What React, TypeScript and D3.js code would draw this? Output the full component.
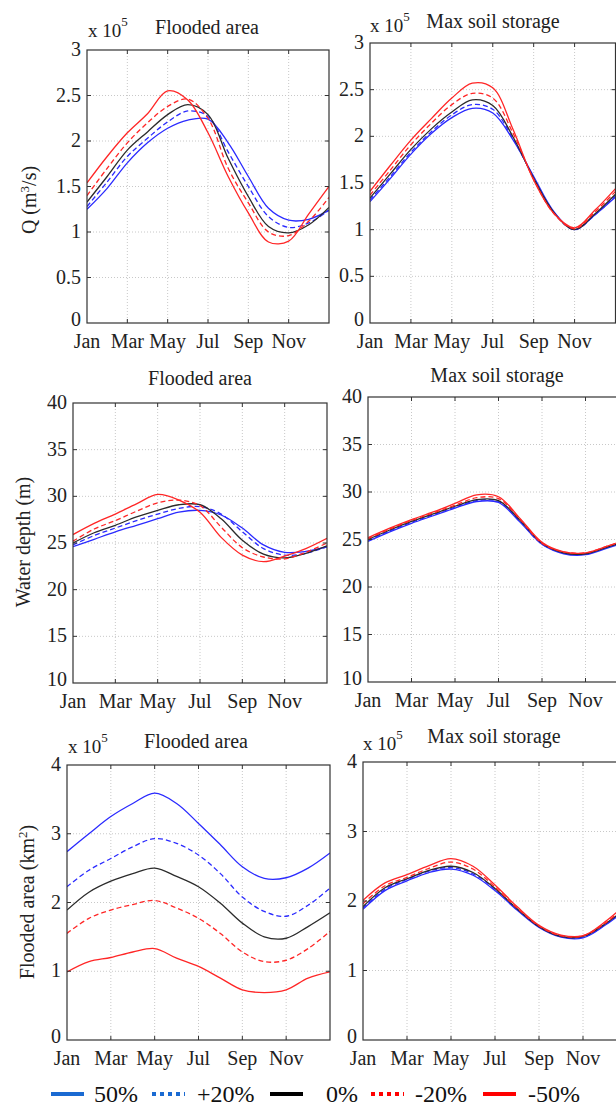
import React from "react";
import * as d3 from "d3";

// x axis: month index, 0 = 1 Jan ... 12 = end of Dec
const monthIndex = d3.range(13);
const monthTicks = [0, 2, 4, 6, 8, 10];
const monthLabels = ["Jan", "Mar", "May", "Jul", "Sep", "Nov"];

const scenarios = ["50%", "+20%", "0%", "-20%", "-50%"];

// discharge Q (x 10^5 m3/s), flooded area scenarios
const qFloodP50 = [1.25, 1.48, 1.76, 1.98, 2.14, 2.23, 2.24, 1.98, 1.61, 1.26, 1.13, 1.14, 1.24];
const qFloodP20 = [1.28, 1.55, 1.83, 2.03, 2.21, 2.33, 2.27, 1.88, 1.5, 1.17, 1.05, 1.1, 1.24];
const qFloodZero = [1.33, 1.61, 1.9, 2.1, 2.29, 2.4, 2.29, 1.81, 1.39, 1.06, 0.99, 1.08, 1.27];
const qFloodM20 = [1.4, 1.7, 1.98, 2.2, 2.38, 2.46, 2.25, 1.7, 1.32, 1.0, 0.96, 1.12, 1.38];
const qFloodM50 = [1.54, 1.83, 2.09, 2.3, 2.55, 2.45, 2.09, 1.61, 1.21, 0.89, 0.9, 1.2, 1.5];

// discharge Q (x 10^5 m3/s), max soil storage scenarios
const qSoilP50 = [1.3, 1.55, 1.81, 2.03, 2.2, 2.3, 2.25, 1.96, 1.57, 1.19, 1.0, 1.16, 1.35];
const qSoilP20 = [1.32, 1.57, 1.83, 2.05, 2.23, 2.34, 2.29, 1.97, 1.56, 1.18, 1.0, 1.16, 1.36];
const qSoilZero = [1.34, 1.6, 1.86, 2.08, 2.26, 2.39, 2.33, 1.99, 1.55, 1.18, 1.0, 1.17, 1.38];
const qSoilM20 = [1.37, 1.64, 1.91, 2.14, 2.34, 2.46, 2.41, 2.03, 1.54, 1.17, 1.01, 1.19, 1.41];
const qSoilM50 = [1.41, 1.69, 1.96, 2.19, 2.41, 2.57, 2.52, 2.07, 1.53, 1.17, 1.02, 1.21, 1.44];

// water depth (m), flooded area scenarios
const depthFloodP50 = [24.6, 25.4, 26.2, 26.9, 27.6, 28.3, 28.5, 28.0, 26.6, 24.8, 24.0, 24.1, 24.6];
const depthFloodP20 = [24.8, 25.8, 26.6, 27.4, 28.1, 28.7, 28.9, 28.1, 26.2, 24.4, 23.7, 23.9, 24.6];
const depthFloodZero = [25.0, 26.1, 26.9, 27.8, 28.5, 29.1, 29.1, 27.6, 25.3, 23.8, 23.4, 23.9, 24.7];
const depthFloodM20 = [25.2, 26.5, 27.4, 28.4, 29.3, 29.6, 29.0, 26.7, 24.5, 23.5, 23.3, 24.0, 25.0];
const depthFloodM50 = [25.9, 27.1, 28.1, 29.2, 30.2, 29.6, 28.3, 25.6, 23.7, 23.0, 23.6, 24.4, 25.5];

// water depth (m), max soil storage scenarios
const depthSoilP50 = [24.8, 25.8, 26.7, 27.5, 28.3, 29.0, 28.9, 26.8, 24.5, 23.5, 23.4, 24.1, 24.8];
const depthSoilP20 = [24.9, 25.9, 26.8, 27.6, 28.4, 29.1, 29.0, 26.9, 24.5, 23.6, 23.5, 24.2, 24.9];
const depthSoilZero = [25.0, 26.0, 26.9, 27.7, 28.5, 29.2, 29.1, 27.0, 24.6, 23.6, 23.5, 24.2, 24.9];
const depthSoilM20 = [25.1, 26.1, 27.0, 27.8, 28.6, 29.4, 29.3, 27.1, 24.6, 23.7, 23.6, 24.3, 25.0];
const depthSoilM50 = [25.2, 26.2, 27.1, 27.9, 28.8, 29.7, 29.5, 27.2, 24.7, 23.7, 23.6, 24.3, 25.1];

// flooded area (x 10^5 km2), flooded area scenarios
const areaFloodP50 = [2.74, 3.0, 3.25, 3.44, 3.59, 3.44, 3.15, 2.84, 2.52, 2.35, 2.36, 2.5, 2.72];
const areaFloodP20 = [2.23, 2.47, 2.64, 2.81, 2.93, 2.86, 2.69, 2.42, 2.08, 1.87, 1.8, 1.96, 2.21];
const areaFloodZero = [1.89, 2.15, 2.31, 2.42, 2.5, 2.38, 2.23, 1.99, 1.7, 1.5, 1.48, 1.65, 1.85];
const areaFloodM20 = [1.55, 1.77, 1.89, 1.97, 2.03, 1.92, 1.77, 1.55, 1.28, 1.14, 1.16, 1.33, 1.58];
const areaFloodM50 = [0.99, 1.14, 1.2, 1.28, 1.33, 1.19, 1.07, 0.9, 0.73, 0.69, 0.73, 0.9, 0.99];

// flooded area (x 10^5 km2), max soil storage scenarios
const areaSoilP50 = [1.88, 2.15, 2.29, 2.41, 2.46, 2.37, 2.15, 1.87, 1.62, 1.48, 1.47, 1.65, 1.89];
const areaSoilP20 = [1.9, 2.17, 2.31, 2.43, 2.48, 2.39, 2.17, 1.88, 1.63, 1.49, 1.48, 1.66, 1.9];
const areaSoilZero = [1.92, 2.19, 2.32, 2.44, 2.5, 2.41, 2.18, 1.89, 1.63, 1.49, 1.49, 1.67, 1.91];
const areaSoilM20 = [1.96, 2.22, 2.34, 2.47, 2.56, 2.46, 2.2, 1.9, 1.64, 1.5, 1.5, 1.68, 1.94];
const areaSoilM50 = [2.01, 2.26, 2.38, 2.51, 2.61, 2.5, 2.23, 1.92, 1.65, 1.51, 1.5, 1.7, 1.97];

const qTicks = [0, 0.5, 1, 1.5, 2, 2.5, 3];
const depthTicks = [10, 15, 20, 25, 30, 35, 40];
const areaTicks = [0, 1, 2, 3, 4];

// styles per scenario
const lineColors = ["#2a2aff", "#2a2aff", "#2b2b2b", "#ff2626", "#ff2626"];
const lineDash = [null, "5,3", null, "5,3", null];
const legendColors = ["#1a6ad2", "#1a6ad2", "#000000", "#ff0000", "#ff0000"];
const legendDash = [null, "4,4", null, "4,4", null];

const FONT = "'Liberation Serif', 'DejaVu Serif', 'Times New Roman', serif";

const panels = [
  { x0: 87, x1: 329, y0: 50, y1: 323, ticks: qTicks, series: [qFloodP50, qFloodP20, qFloodZero, qFloodM20, qFloodM50],
    title: "Flooded area", tx: 207, ty: 34, exp: { x: 88, y: 37 } },
  { x0: 370, x1: 615.5, y0: 43, y1: 323, ticks: qTicks, series: [qSoilP50, qSoilP20, qSoilZero, qSoilM20, qSoilM50],
    title: "Max soil storage", tx: 493, ty: 28, exp: { x: 370, y: 32 } },
  { x0: 73, x1: 327, y0: 403, y1: 683, ticks: depthTicks, series: [depthFloodP50, depthFloodP20, depthFloodZero, depthFloodM20, depthFloodM50],
    title: "Flooded area", tx: 200, ty: 385, exp: null },
  { x0: 368, x1: 629, y0: 397, y1: 682, ticks: depthTicks, series: [depthSoilP50, depthSoilP20, depthSoilZero, depthSoilM20, depthSoilM50],
    title: "Max soil storage", tx: 497, ty: 382, exp: null },
  { x0: 67, x1: 330, y0: 765, y1: 1040, ticks: areaTicks, series: [areaFloodP50, areaFloodP20, areaFloodZero, areaFloodM20, areaFloodM50],
    title: "Flooded area", tx: 196, ty: 748, exp: { x: 68, y: 753 } },
  { x0: 363, x1: 627, y0: 762, y1: 1040, ticks: areaTicks, series: [areaSoilP50, areaSoilP20, areaSoilZero, areaSoilM20, areaSoilM50],
    title: "Max soil storage", tx: 494, ty: 743, exp: { x: 363, y: 750 } },
];

const Panel = ({ p, idx }: any) => {
  const x = d3.scaleLinear().domain([0, 12]).range([p.x0, p.x1]);
  const y = d3.scaleLinear().domain(d3.extent(p.ticks) as [number, number]).range([p.y1, p.y0]);
  const line = d3
    .line<number>()
    .x((_, i) => x(monthIndex[i]))
    .y((d) => y(d))
    .curve(d3.curveCatmullRom.alpha(0.5));
  const clipId = "clip" + idx;
  return (
    <g>
      <defs>
        <clipPath id={clipId}>
          <rect x={p.x0} y={p.y0} width={p.x1 - p.x0} height={p.y1 - p.y0} />
        </clipPath>
      </defs>
      {/* grid */}
      {monthTicks.slice(1).map((m) => (
        <line key={"gx" + m} x1={x(m)} x2={x(m)} y1={p.y0} y2={p.y1} stroke="#c8c8c8" strokeDasharray="1,2" />
      ))}
      {p.ticks.slice(1, -1).map((t: number) => (
        <line key={"gy" + t} x1={p.x0} x2={p.x1} y1={y(t)} y2={y(t)} stroke="#c8c8c8" strokeDasharray="1,2" />
      ))}
      {/* series */}
      <g clipPath={`url(#${clipId})`}>
        {p.series.map((s: number[], i: number) => (
          <path key={i} d={line(s) || ""} fill="none" stroke={lineColors[i]} strokeWidth={1.3}
            strokeDasharray={lineDash[i] || undefined} />
        ))}
      </g>
      {/* frame and ticks */}
      <rect x={p.x0} y={p.y0} width={p.x1 - p.x0} height={p.y1 - p.y0} fill="none" stroke="#333" strokeWidth={1.2} />
      {monthTicks.slice(1).map((m) => (
        <g key={"tx" + m} stroke="#333">
          <line x1={x(m)} x2={x(m)} y1={p.y1} y2={p.y1 - 4} />
          <line x1={x(m)} x2={x(m)} y1={p.y0} y2={p.y0 + 4} />
        </g>
      ))}
      {p.ticks.slice(1, -1).map((t: number) => (
        <g key={"ty" + t} stroke="#333">
          <line x1={p.x0} x2={p.x0 + 4} y1={y(t)} y2={y(t)} />
          <line x1={p.x1} x2={p.x1 - 4} y1={y(t)} y2={y(t)} />
        </g>
      ))}
      {monthTicks.map((m, i) => (
        <text key={"lx" + m} x={x(m)} y={p.y1 + 25} textAnchor="middle" fontSize={20} fill="#222"
          style={{ fontFamily: FONT }}>
          {monthLabels[i]}
        </text>
      ))}
      {p.ticks.map((t: number) => (
        <text key={"ly" + t} x={p.x0 - 6} y={y(t) + (t === p.ticks[0] ? 3 : 6)} textAnchor="end" fontSize={20} fill="#222"
          style={{ fontFamily: FONT }}>
          {t}
        </text>
      ))}
      <text x={p.tx} y={p.ty} textAnchor="middle" fontSize={20} fill="#222" style={{ fontFamily: FONT }}>
        {p.title}
      </text>
      {p.exp && (
        <text x={p.exp.x} y={p.exp.y} fontSize={19} fill="#222" style={{ fontFamily: FONT }}>
          x 10
          <tspan dy={-11} fontSize={13}>5</tspan>
        </text>
      )}
    </g>
  );
};

const legendX = [51, 152, 270, 371, 483];
const legendTextX = [94, 197, 326, 415, 528];

const App = () => {
  return (
    <svg width={616} height={1108} style={{ position: "absolute", left: 0, top: 0, background: "#fff" }}>
      <rect width={616} height={1108} fill="#fff" />
      {panels.map((p, i) => (
        <Panel key={i} p={p} idx={i} />
      ))}
      {/* y axis labels */}
      <g fontSize={20} fill="#222" style={{ fontFamily: FONT }}>
        <text transform="translate(36,200) rotate(-90)" textAnchor="middle">
          Q (m<tspan dy={-7} fontSize={13}>3</tspan>
          <tspan dy={7}>/s)</tspan>
        </text>
        <text transform="translate(30,542) rotate(-90)" textAnchor="middle">
          Water depth (m)
        </text>
        <text transform="translate(34,902) rotate(-90)" textAnchor="middle">
          Flooded area (km<tspan dy={-7} fontSize={13}>2</tspan>
          <tspan dy={7}>)</tspan>
        </text>
      </g>
      {/* legend */}
      <g fontSize={24} fill="#111" style={{ fontFamily: FONT }}>
        {scenarios.map((s, i) => (
          <g key={s}>
            <line x1={legendX[i]} x2={legendX[i] + 33} y1={1094} y2={1094} stroke={legendColors[i]} strokeWidth={4}
              strokeDasharray={legendDash[i] || undefined} />
            <text x={legendTextX[i]} y={1102}>{s}</text>
          </g>
        ))}
      </g>
    </svg>
  );
};

export default App;
